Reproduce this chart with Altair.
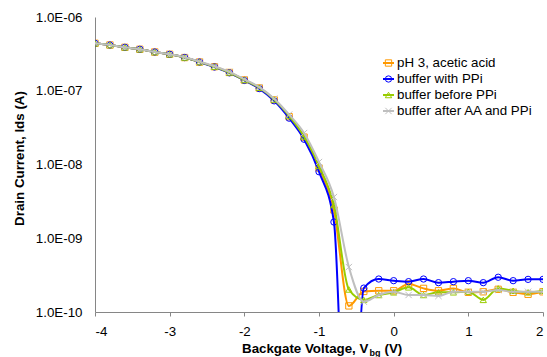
import altair as alt
import pandas as pd

voltage = [-4.0, -3.8, -3.6, -3.4, -3.2, -3.0, -2.8, -2.6, -2.4, -2.2, -2.0,
           -1.8, -1.6, -1.4, -1.2, -1.0, -0.8, -0.6, -0.4, -0.2, 0.0,
           0.2, 0.4, 0.6, 0.8, 1.0, 1.2, 1.4, 1.6, 1.8, 2.0]

names = ["pH 3, acetic acid", "buffer with PPi", "buffer before PPi", "buffer after AA and PPi"]

ids_ph3 = [4.40e-7, 4.17e-7, 3.88e-7, 3.65e-7, 3.35e-7, 3.12e-7, 2.82e-7, 2.45e-7, 2.12e-7, 1.77e-7, 1.40e-7,
           1.09e-7, 7.50e-8, 4.45e-8, 2.35e-8, 8.97e-9, 2.42e-9, 1.21e-10, 1.90e-10, 1.94e-10, 1.94e-10,
           2.40e-10, 2.09e-10, 1.94e-10, 2.09e-10, 1.85e-10, 1.88e-10, 2.03e-10, 1.85e-10, 1.74e-10, 1.88e-10]
ids_with_ppi = [4.40e-7, 4.17e-7, 3.88e-7, 3.65e-7, 3.35e-7, 3.12e-7, 2.82e-7, 2.45e-7, 2.10e-7, 1.75e-7, 1.38e-7,
                1.07e-7, 7.30e-8, 4.25e-8, 2.20e-8, 7.98e-9, 1.66e-9, 1.0e-13, 2.11e-10, 2.80e-10, 2.66e-10,
                2.58e-10, 2.80e-10, 2.50e-10, 2.58e-10, 2.66e-10, 2.50e-10, 2.96e-10, 2.66e-10, 2.77e-10, 2.77e-10]
ids_before_ppi = [4.40e-7, 4.17e-7, 3.88e-7, 3.65e-7, 3.35e-7, 3.12e-7, 2.82e-7, 2.45e-7, 2.12e-7, 1.77e-7, 1.40e-7,
                  1.10e-7, 7.60e-8, 4.55e-8, 2.40e-8, 9.55e-9, 2.82e-9, 2.02e-10, 1.46e-10, 1.70e-10, 1.85e-10,
                  2.16e-10, 1.70e-10, 1.85e-10, 1.85e-10, 1.88e-10, 1.46e-10, 2.09e-10, 1.94e-10, 1.85e-10, 1.94e-10]
ids_after_aa = [4.40e-7, 4.17e-7, 3.88e-7, 3.65e-7, 3.35e-7, 3.12e-7, 2.84e-7, 2.48e-7, 2.15e-7, 1.80e-7, 1.43e-7,
                1.12e-7, 7.80e-8, 4.75e-8, 2.67e-8, 1.08e-8, 3.62e-9, 4.07e-10, 1.38e-10, 1.70e-10, 1.88e-10,
                1.70e-10, 1.70e-10, 1.65e-10, 1.88e-10, 1.88e-10, 1.88e-10, 1.99e-10, 1.88e-10, 1.88e-10, 1.88e-10]

colors = ["#FF9900", "#0000FF", "#99CC00", "#BFBFBF"]
shapes = ["square", "circle", "triangle-up", "M-1,-1L1,1M-1,1L1,-1"]

FONT = "Liberation Sans"
FS = 13.33

rows = []
for name, vals in zip(names, [ids_ph3, ids_with_ppi, ids_before_ppi, ids_after_aa]):
    for v, i in zip(voltage, vals):
        rows.append({"Vbg": v, "Ids": i, "series": name})
df = pd.DataFrame(rows)

x_enc = alt.X("Vbg:Q",
              scale=alt.Scale(domain=[-4, 2], nice=False, zero=False),
              axis=alt.Axis(values=[-4, -3, -2, -1, 0, 1, 2], labelExpr="'' + datum.value",
                            title=None, grid=False, tickSize=4, labelPadding=8,
                            domainColor="#868686", tickColor="#868686",
                            labelFont=FONT, labelFontSize=FS, labelColor="black"))
y_enc = alt.Y("Ids:Q",
              scale=alt.Scale(type="log", domain=[1e-10, 1e-6], nice=False),
              axis=alt.Axis(values=[1e-10, 1e-9, 1e-8, 1e-7, 1e-6],
                            labelExpr="'1.0E-' + (round(-log(datum.value)/LN10) < 10 ? '0' : '') + round(-log(datum.value)/LN10)",
                            grid=False, ticks=False, labelPadding=13,
                            domainColor="#868686",
                            labelFont=FONT, labelFontSize=FS, labelColor="black",
                            title="Drain Current, Ids (A)", titleFont=FONT, titleFontSize=FS,
                            titleFontWeight="bold", titleColor="black",
                            titleX=-72, titleY=141, titleAngle=-90,
                            titleBaseline="alphabetic", titleAlign="center"))
color_enc = alt.Color("series:N", scale=alt.Scale(domain=names, range=colors), legend=None)
shape_enc = alt.Shape("series:N", scale=alt.Scale(domain=names, range=shapes), legend=None)

base = alt.Chart(df)
layers = []
for name in names:
    sub = base.transform_filter(alt.datum.series == name)
    layers.append(sub.mark_line(clip=True, strokeWidth=2, interpolate="monotone")
                  .encode(x=x_enc, y=y_enc, color=color_enc))
    layers.append(sub.mark_point(clip=True, filled=False, size=40, strokeWidth=1, opacity=1)
                  .encode(x=x_enc, y=y_enc, color=color_enc, shape=shape_enc))
main = alt.layer(*layers)

leg_df = pd.DataFrame({"series": names, "row": [0, 1, 2, 3]})
leg_base = alt.Chart(leg_df)
leg_y = alt.Y("row:Q", scale=alt.Scale(domain=[0, 3], range=[46, 94]), axis=None)
leg_rule = leg_base.mark_rule(strokeWidth=2).encode(
    x=alt.value(288), x2=alt.value(299), y=leg_y, color=color_enc)
leg_pt = leg_base.mark_point(filled=False, size=40, strokeWidth=1, opacity=1).encode(
    x=alt.value(293.5), y=leg_y, color=color_enc, shape=shape_enc)
leg_txt = leg_base.mark_text(align="left", baseline="middle", font=FONT, fontSize=FS, color="black").encode(
    x=alt.value(302), y=leg_y, text="series:N")

xt1 = alt.Chart(alt.Data(values=[{"t": "Backgate Voltage, V"}])).mark_text(
    align="left", baseline="alphabetic", font=FONT, fontSize=FS, fontWeight="bold", color="black"
).encode(x=alt.value(147), y=alt.value(336), text="t:N")
xt2 = alt.Chart(alt.Data(values=[{"t": "bg"}])).mark_text(
    align="left", baseline="alphabetic", font=FONT, fontSize=9, fontWeight="bold", color="black"
).encode(x=alt.value(274.5), y=alt.value(339), text="t:N")
xt3 = alt.Chart(alt.Data(values=[{"t": "(V)"}])).mark_text(
    align="left", baseline="alphabetic", font=FONT, fontSize=FS, fontWeight="bold", color="black"
).encode(x=alt.value(289.5), y=alt.value(336), text="t:N")

legend = alt.layer(leg_rule, leg_pt, leg_txt, xt1, xt2, xt3)

chart = alt.layer(main, legend).resolve_scale(y="independent").properties(
    width=448, height=295,
    autosize=alt.AutoSizeParams(type="none"),
    padding={"left": 95, "top": 17, "right": 4, "bottom": 45},
    background="white",
).configure_view(stroke=None)

chart.save("out.html", embed_options={"renderer": "svg", "actions": False})
